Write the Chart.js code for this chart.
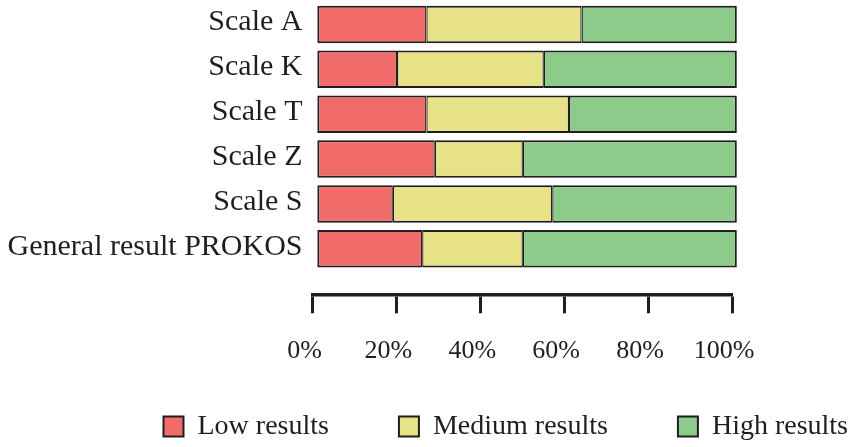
<!DOCTYPE html>
<html>
<head>
<meta charset="utf-8">
<script src="https://cdn.jsdelivr.net/npm/chart.js@4"></script>
<style>
  html, body { margin: 0; padding: 0; background: #ffffff; }
  canvas { display: block; }
</style>
</head>
<body>
<canvas id="c" width="860" height="447"></canvas>
<script>
const categories = ['Scale A', 'Scale K', 'Scale T', 'Scale Z', 'Scale S', 'General result PROKOS'];
const seriesNames = ['Low results', 'Medium results', 'High results'];
const lowValues = [26, 19, 26, 28, 18, 25];
const mediumValues = [37, 35, 34, 21, 38, 24];
const highValues = [37, 46, 40, 51, 44, 51];
const xTickLabels = ['0%', '20%', '40%', '60%', '80%', '100%'];

const INK = '#1e1e1e';
const FONT = 'Liberation Serif';
const LEGEND_PAD = 70;

// place the legend row like the reference (first box at x≈163, centred on y≈426)
const legendPlacer = {
  id: 'legendPlacer',
  afterLayout(chart) {
    const l = chart.legend;
    if (!l) return;
    l.left = 163.5 - LEGEND_PAD;
    l.right = 1100;
    l.top = 412.5 - LEGEND_PAD;
  }
};

new Chart(document.getElementById('c'), {
  type: 'bar',
  data: {
    labels: categories,
    datasets: [
      { label: seriesNames[0], data: lowValues, backgroundColor: '#F26B6B',
        borderWidth: { top: 2, bottom: 2, left: 2, right: 1.3 } },
      { label: seriesNames[1], data: mediumValues, backgroundColor: '#E7E187',
        borderWidth: { top: 2, bottom: 2, left: 1.3, right: 1.3 } },
      { label: seriesNames[2], data: highValues, backgroundColor: '#8DCB8B',
        borderWidth: { top: 2, bottom: 2, left: 1.3, right: 2 } }
    ].map(d => Object.assign(d, {
      xAxisID: 'xb', yAxisID: 'y', borderColor: INK, borderSkipped: false, clip: false,
      barPercentage: 0.835, categoryPercentage: 1
    }))
  },
  options: {
    indexAxis: 'y',
    responsive: false,
    animation: false,
    layout: { padding: { top: 2, right: 0, bottom: 0, left: 0 } },
    scales: {
      y: {
        stacked: true,
        grid: { display: false, drawTicks: false },
        border: { display: false },
        ticks: { color: INK, font: { family: FONT, size: 30 }, padding: 10, autoSkip: false, labelOffset: -2 },
        afterFit: (s) => { s.width = 312.5; s.paddingTop = 0; s.paddingBottom = 0; }
      },
      yr: {
        type: 'category', position: 'right',
        grid: { display: false, drawTicks: false },
        border: { display: false },
        ticks: { display: false },
        afterFit: (s) => { s.width = 128; s.paddingTop = 0; s.paddingBottom = 0; }
      },
      xb: {
        type: 'linear', position: 'bottom', stacked: true, weight: 0,
        min: -1.15, max: 98.85,
        grid: { display: false, drawTicks: false },
        border: { display: false },
        ticks: { display: false },
        afterFit: (s) => { s.height = 23; }
      },
      x: {
        type: 'linear', position: 'bottom', weight: 1,
        min: 0, max: 100,
        grid: { drawOnChartArea: false, drawTicks: true, tickLength: 19, tickWidth: 3, color: INK },
        border: { display: true, width: 3.5, color: INK },
        ticks: {
          stepSize: 20, color: INK, font: { family: FONT, size: 26 }, padding: 22, labelOffset: -8,
          callback: (v, i) => xTickLabels[i]
        },
        afterFit: (s) => { s.height = 122.7; }
      }
    },
    plugins: {
      tooltip: { enabled: false },
      legend: {
        position: 'bottom',
        align: 'start',
        maxHeight: 30,
        labels: {
          color: INK,
          font: { family: FONT, size: 28 },
          boxWidth: 20, boxHeight: 20, padding: LEGEND_PAD,
          generateLabels: (chart) => chart.data.datasets.map((d, i) => ({
            text: d.label, fillStyle: d.backgroundColor, strokeStyle: INK,
            lineWidth: 2, datasetIndex: i, hidden: false, fontColor: INK
          }))
        }
      }
    }
  },
  plugins: [legendPlacer]
});
</script>
</body>
</html>
